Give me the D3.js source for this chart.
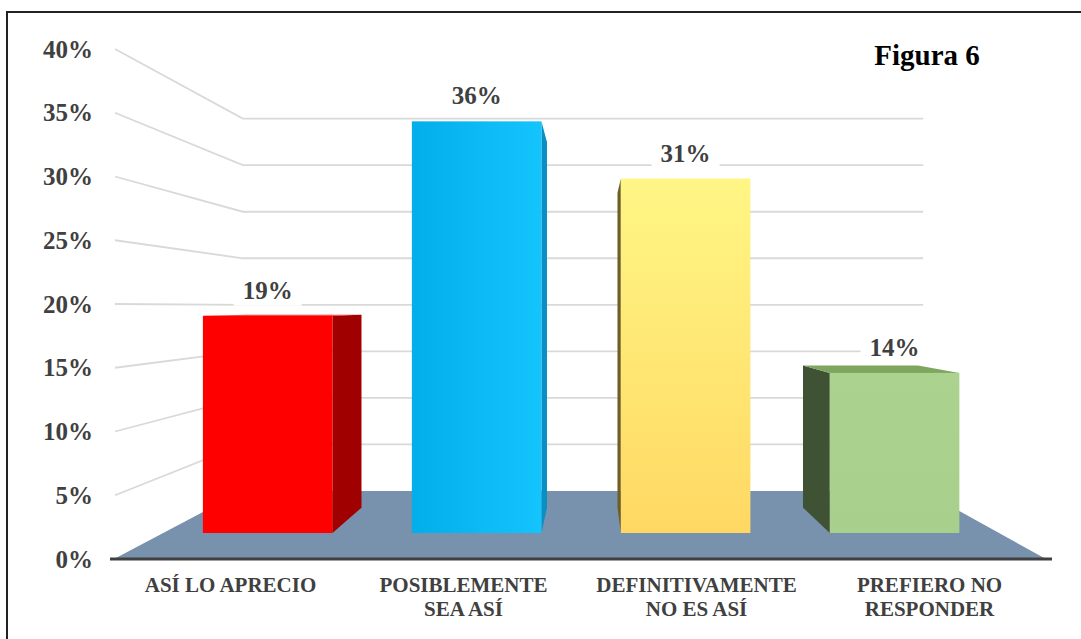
<!DOCTYPE html>
<html>
<head>
<meta charset="utf-8">
<script src="https://cdn.jsdelivr.net/npm/d3@7/dist/d3.min.js"></script>
<style>
  html, body { margin: 0; padding: 0; background: #fff; }
  svg { display: block; }
  text { font-family: "Liberation Serif", "Times New Roman", serif; font-weight: bold; }
</style>
</head>
<body>
<svg id="chart" width="1081" height="639"></svg>
<script>
// ---- data ----
const categories = ["ASÍ LO APRECIO", "POSIBLEMENTE\nSEA ASÍ", "DEFINITIVAMENTE\nNO ES ASÍ", "PREFIERO NO\nRESPONDER"];
const values = [19, 36, 31, 14];
const tickValues = [0, 5, 10, 15, 20, 25, 30, 35, 40];
const title = "Figura 6";

// ---- styling ----
const frontColors = ["#ff0000", "url(#gBlue)", "url(#gYellow)", "url(#gGreen)"];
const sideColors  = ["#a00000", "#0a8fc4", "#6e5e26", "#3f5233"];
const topColors   = ["#ff2a2a", "#30c8ff", "#fff48a", "#7ea65e"];

const svg = d3.select("#chart");
const defs = svg.append("defs");
function grad(id, x2, y2, stops) {
  const g = defs.append("linearGradient").attr("id", id)
    .attr("x1", 0).attr("y1", 0).attr("x2", x2).attr("y2", y2);
  stops.forEach(([o, c]) => g.append("stop").attr("offset", o).attr("stop-color", c));
}
grad("gBlue", 1, 0, [[0, "#03aeea"], [1, "#14c4fd"]]);
grad("gYellow", 0, 1, [[0, "#fff685"], [1, "#ffd863"]]);
grad("gGreen", 0, 1, [[0, "#abd28f"], [1, "#a8d08c"]]);

// frame
svg.append("rect").attr("x", 7).attr("y", 12).attr("width", 1100).attr("height", 700)
  .attr("fill", "none").attr("stroke", "#222").attr("stroke-width", 2);

// ---- scales (front plane) ----
const y = d3.scaleLinear().domain([0, 40]).range([559, 49]);
const x = d3.scaleBand().domain(categories).range([114, 1046]).paddingInner(0.38).paddingOuter(0.19);

// perspective projection
const vx = 591, vy = 307;
const zBack = 1 / 0.73 - 1;       // floor / back wall depth
const z0 = 0.115, z1 = 0.256;      // bar depth
function proj(X, Y, z) {
  const s = 1 / (1 + z);
  return [vx + s * (X - vx), vy + s * (Y - vy)];
}
const X0 = x.range()[0], X1 = x.range()[1];
const line = d3.line();

// floor
svg.append("path")
  .attr("d", line([proj(X0, y(0), 0), proj(X1, y(0), 0), proj(X1, y(0), zBack), proj(X0, y(0), zBack)]) + "Z")
  .attr("fill", "#7891ad");

// gridlines: left wall and back wall
const grid = svg.append("g").attr("stroke", "#d9d9d9").attr("stroke-width", 1.8).attr("fill", "none");
tickValues.forEach(t => {
  if (t === 0) return;
  grid.append("path").attr("d", line([proj(X0 + 1, y(t), 0), proj(X0, y(t), zBack), proj(X1, y(t), zBack)]));
});

// front floor edge
svg.append("line").attr("x1", 110).attr("x2", 1052).attr("y1", y(0)).attr("y2", y(0))
  .attr("stroke", "#404040").attr("stroke-width", 3);

// ---- bars ----
const bars = svg.append("g");
categories.forEach((c, i) => {
  const a = x(c), b = x(c) + x.bandwidth();
  const top = y(values[i]), bot = y(0);
  const g = bars.append("g");
  // side face
  if (b < vx) {
    g.append("path").attr("d", line([proj(b, top, z0), proj(b, top, z1), proj(b, bot, z1), proj(b, bot, z0)]) + "Z")
      .attr("fill", sideColors[i]);
  } else if (a > vx) {
    g.append("path").attr("d", line([proj(a, top, z0), proj(a, top, z1), proj(a, bot, z1), proj(a, bot, z0)]) + "Z")
      .attr("fill", sideColors[i]);
  }
  // top face
  if (top > vy) {
    g.append("path").attr("d", line([proj(a, top, z0), proj(b, top, z0), proj(b, top, z1), proj(a, top, z1)]) + "Z")
      .attr("fill", topColors[i]);
  }
  // front face
  const p0 = proj(a, top, z0), p1 = proj(b, bot, z0);
  g.append("rect").attr("x", p0[0]).attr("y", p0[1]).attr("width", p1[0] - p0[0]).attr("height", p1[1] - p0[1])
    .attr("fill", frontColors[i]);
});

// ---- value labels ----
const labels = svg.append("g");
categories.forEach((c, i) => {
  const p = proj(x(c) + x.bandwidth() / 2, y(values[i]), z0);
  const t = labels.append("text").attr("x", p[0]).attr("y", p[1] - 17)
    .attr("text-anchor", "middle").attr("font-size", 25).attr("fill", "#404040")
    .text(values[i] + "%");
  const bb = t.node().getBBox();
  labels.insert("rect", "text:last-of-type")
    .attr("x", bb.x - 9).attr("y", bb.y - 2).attr("width", bb.width + 18).attr("height", bb.height + 4)
    .attr("fill", "#fff");
});

// ---- y axis labels ----
const yAxis = svg.append("g").attr("transform", "translate(93,0)")
  .call(d3.axisLeft(y).tickValues(tickValues).tickSize(0).tickPadding(0).tickFormat(d => d + "%"));
yAxis.select(".domain").remove();
yAxis.selectAll("text").attr("font-size", 25).attr("fill", "#404040")
  .attr("font-family", "Liberation Serif, Times New Roman, serif").attr("font-weight", "bold");

// ---- x axis labels ----
const xAxis = svg.append("g").attr("transform", "translate(0,592)")
  .call(d3.axisBottom(x).tickSize(0).tickPadding(0));
xAxis.select(".domain").remove();
xAxis.selectAll("text").each(function(d) {
  const el = d3.select(this);
  el.text(null).attr("y", 0).attr("dy", null)
    .attr("font-size", 21).attr("fill", "#404040")
    .attr("font-family", "Liberation Serif, Times New Roman, serif").attr("font-weight", "bold");
  d.split("\n").forEach((ln, k) => {
    el.append("tspan").attr("x", 0).attr("y", k * 24).text(ln);
  });
});

// title
svg.append("text").attr("x", 927).attr("y", 65).attr("text-anchor", "middle")
  .attr("font-size", 29).attr("fill", "#000").text(title);
</script>
</body>
</html>
